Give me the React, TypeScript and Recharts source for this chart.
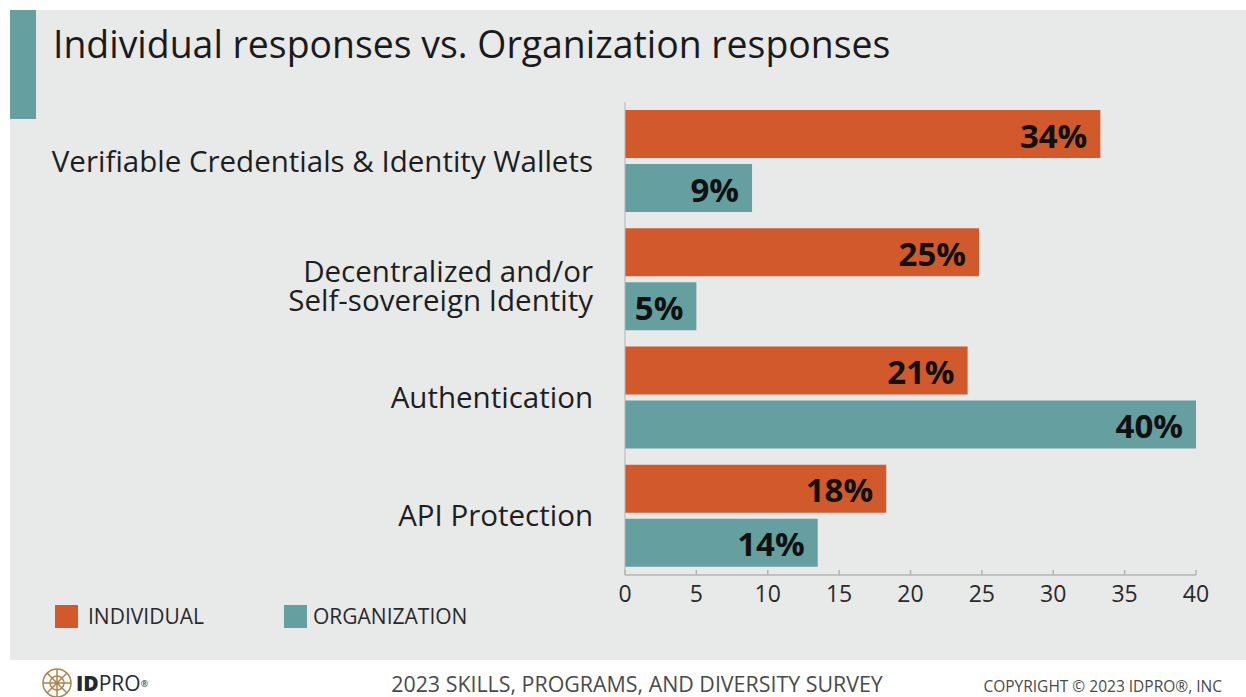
import React from 'react';
import { BarChart, Bar, XAxis, YAxis, LabelList } from 'recharts';

const categories = [
  'Verifiable Credentials & Identity Wallets',
  'Decentralized and/or\nSelf-sovereign Identity',
  'Authentication',
  'API Protection',
];
const individualValues = [33.3, 24.8, 24.0, 18.3];
const organizationValues = [8.9, 5.0, 40.0, 13.5];
const individualLabels = ['34%', '25%', '21%', '18%'];
const organizationLabels = ['9%', '5%', '40%', '14%'];
const xTicks = [0, 5, 10, 15, 20, 25, 30, 35, 40];
const seriesNames = ['INDIVIDUAL', 'ORGANIZATION'];
const titleText = 'Individual responses vs. Organization responses';
const footerCenter = '2023 SKILLS, PROGRAMS, AND DIVERSITY SURVEY';
const footerRight = 'COPYRIGHT © 2023 IDPRO®, INC';

const ORANGE = '#d1592b';
const TEAL = '#659f9f';
const PANEL = '#e8e9e9';
const FONT = '"Open Sans", "Noto Sans", sans-serif';

const data = categories.map((c, i) => ({
  category: c,
  individual: individualValues[i],
  organization: organizationValues[i],
  indLabel: individualLabels[i],
  orgLabel: organizationLabels[i],
}));

const YTick = (props: any) => {
  const { x, y, payload } = props;
  const lines = String(payload.value).split('\n');
  const lh = 29;
  const start = y - ((lines.length - 1) * lh) / 2 + (lines.length > 1 ? 6 : -1);
  return (
    <g>
      {lines.map((l, i) => (
        <text
          key={i}
          x={x - 32}
          y={start + i * lh}
          textAnchor="end"
          dominantBaseline="central"
          fontFamily={FONT}
          fontSize={29.5}
          fill="#1e1e1e"
        >
          {l}
        </text>
      ))}
    </g>
  );
};

const XTick = (props: any) => {
  const { x, y, payload } = props;
  return (
    <g>
      <line x1={x} x2={x} y1={y - 5} y2={y} stroke="#b3b3b3" strokeWidth={1.5} />
      <text
        x={x}
        y={y + 18}
        textAnchor="middle"
        dominantBaseline="central"
        fontFamily={FONT}
        fontSize={23}
        fill="#2a2a2a"
      >
        {payload.value}
      </text>
    </g>
  );
};

const barLabel = (props: any) => {
  const { x, y, width, height, value } = props;
  return (
    <text
      x={x + width - 13}
      y={y + height / 2 + 1}
      textAnchor="end"
      dominantBaseline="central"
      fontFamily={FONT}
      fontWeight={700}
      fontSize={33}
      fill="#111"
    >
      {value}
    </text>
  );
};

export default function App() {
  return (
    <div
      style={{
        position: 'absolute',
        left: 0,
        top: 0,
        width: 1246,
        height: 697,
        background: '#ffffff',
        overflow: 'hidden',
        fontFamily: FONT,
      }}
    >
      <div style={{ position: 'absolute', left: 10, top: 10, width: 1236, height: 650, background: PANEL }} />
      <div style={{ position: 'absolute', left: 10, top: 10, width: 26, height: 109, background: TEAL }} />
      <div
        style={{
          position: 'absolute',
          left: 53,
          top: 19,
          fontSize: 37.4,
          lineHeight: '50px',
          color: '#1a1a1a',
          whiteSpace: 'nowrap',
        }}
      >
        {titleText}
      </div>
      <div style={{ position: 'absolute', left: 0, top: 0 }}>
        <BarChart
          width={1246}
          height={697}
          data={data}
          layout="vertical"
          margin={{ top: 102, right: 50, bottom: 92, left: 0 }}
          barSize={48}
          barGap={6}
        >
          <XAxis
            type="number"
            domain={[0, 40]}
            ticks={xTicks}
            height={30}
            tickLine={false}
            tickSize={0}
            tickMargin={0}
            axisLine={{ stroke: '#b3b3b3', strokeWidth: 1.5 }}
            tick={<XTick />}
            interval={0}
          />
          <YAxis
            type="category"
            dataKey="category"
            width={625}
            tickLine={false}
            tickSize={0}
            tickMargin={0}
            axisLine={{ stroke: '#b3b3b3' }}
            tick={<YTick />}
            interval={0}
          />
          <Bar dataKey="individual" fill={ORANGE} isAnimationActive={false}>
            <LabelList dataKey="indLabel" content={barLabel} />
          </Bar>
          <Bar dataKey="organization" fill={TEAL} isAnimationActive={false}>
            <LabelList dataKey="orgLabel" content={barLabel} />
          </Bar>
        </BarChart>
      </div>
      {/* legend */}
      <div style={{ position: 'absolute', left: 55, top: 605, width: 23, height: 23, background: ORANGE }} />
      <div style={{ position: 'absolute', left: 88, top: 602, fontSize: 21, lineHeight: '28px', color: '#2a2a2a' }}>
        {seriesNames[0]}
      </div>
      <div style={{ position: 'absolute', left: 284, top: 605, width: 23, height: 23, background: TEAL }} />
      <div style={{ position: 'absolute', left: 313, top: 602, fontSize: 21, lineHeight: '28px', color: '#2a2a2a' }}>
        {seriesNames[1]}
      </div>
      {/* footer */}
      <svg style={{ position: 'absolute', left: 40, top: 666 }} width={40} height={31}>
        <g stroke="#b0834f" strokeWidth={1.5} fill="none">
          <circle cx={17} cy={17} r={14} />
          <path d="M17 3 L17 31 M3 17 L31 17 M7 7 L27 27 M27 7 L7 27" />
          <circle cx={17} cy={17} r={7} />
        </g>
      </svg>
      <div style={{ position: 'absolute', left: 76, top: 673, fontSize: 21, lineHeight: '21px', color: '#1f2a33', whiteSpace: 'nowrap' }}>
        <span style={{ fontWeight: 800 }}>ID</span>
        <span>PRO</span>
        <span style={{ fontSize: 9, verticalAlign: 'top' }}>®</span>
      </div>
      <div style={{ position: 'absolute', left: 0, width: 1274, top: 673, textAlign: 'center', fontSize: 21.4, lineHeight: '22px', color: '#4a4a4a', whiteSpace: 'nowrap' }}>
        {footerCenter}
      </div>
      <div style={{ position: 'absolute', right: 24, top: 677, fontSize: 15.5, lineHeight: '18px', color: '#4a4a4a', whiteSpace: 'nowrap' }}>
        {footerRight}
      </div>
    </div>
  );
}
